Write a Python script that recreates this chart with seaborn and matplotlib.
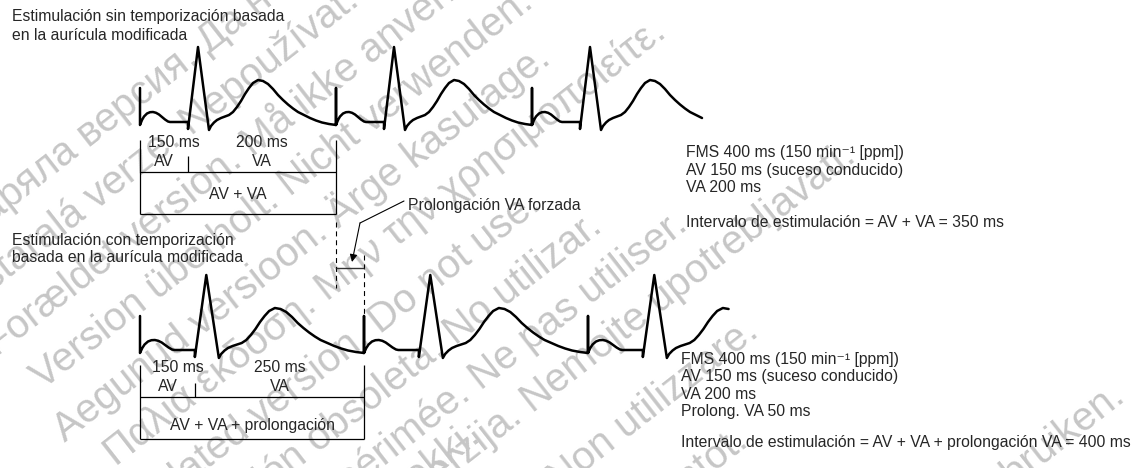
import numpy as np
import pandas as pd
import matplotlib
matplotlib.use("Agg")
import matplotlib.pyplot as plt
import seaborn as sns

# === DATA ===
PACE_INTERVAL = [350, 400]          # ms, top strip / bottom strip
STRIP_END_MS = [1009, 1054]         # where each trace stops (ms from first atrial pace)
BEATS = 3

# one paced beat: x in px inside a 196 px cycle, height above baseline in px
BEAT_DX = [0, 0,
           0, 2, 4, 7, 10, 13, 16, 19, 22, 25, 28, 30,
           48, 48, 58, 69,
           71, 74, 77, 81, 85, 89, 93, 97, 101, 105, 109, 113, 118, 123, 128, 133,
           138, 143, 148, 153, 158, 164, 170, 176, 182, 189, 196]
BEAT_HEIGHT = [35, -2,
               -2, 3, 6.5, 9.5, 10.8, 11, 10.2, 8.5, 6, 3.5, 1.5, 1,
               1, -6, 76, -7,
               -3, 0.5, 3, 5, 6.5, 8, 11, 16, 22, 29, 35, 40, 43, 42, 39, 34,
               28, 23, 18.5, 14.5, 11, 8, 5, 2.5, 0.5, -1, -2]
V_PACE_INDEX = 14                    # first point of the ventricular deflection

BRACKET_TOP = ["150 ms", "200 ms"]
BRACKET_BOTTOM = ["150 ms", "250 ms"]
BRACKET_TOTAL = ["AV + VA", "AV + VA + prolongación"]

TITLE_TOP = ["Estimulación sin temporización basada", "en la aurícula modificada"]
TITLE_BOTTOM = ["Estimulación con temporización", "basada en la aurícula modificada"]
INFO_TOP = ["FMS 400 ms (150 min⁻¹ [ppm])", "AV 150 ms (suceso conducido)", "VA 200 ms", "",
            "Intervalo de estimulación = AV + VA = 350 ms"]
INFO_BOTTOM = ["FMS 400 ms (150 min⁻¹ [ppm])", "AV 150 ms (suceso conducido)", "VA 200 ms",
               "Prolong. VA 50 ms", "", "Intervalo de estimulación = AV + VA + prolongación VA = 400 ms"]

# background watermark, each phrase placed by where it ends (period), picture px
WATERMARK = ["Остаряла версия. Да не се използва.", "Zastaralá verze. Nepoužívat.",
             "Forældet version. Må ikke anvendes.", "Version überholt. Nicht verwenden.",
             "Aegunud versioon. Ärge kasutage.", "Παλιά έκδοση. Μην την χρησιμοποιείτε.",
             "Outdated version. Do not use.", "Versión obsoleta. No utilizar.",
             "Version périmée. Ne pas utiliser.", "Zastarjela verzija. Nemojte upotrebljavati.",
             "Úrelt útgáfa. Notið ekki.", "Versione obsoleta. Non utilizzare.",
             "Novecojusi versija. Neizmantot.", "Verouderde versie. Niet gebruiken."]
WM_END = [(485, -161), (361, 4), (517, -49), (535, 6), (552, 62), (668, 36),
          (543, 208), (604, 230), (689, 228), (858, 160),
          (482, 440), (760, 335), (750, 445), (1127, 400)]

# === LAYOUT (pixels of the 1143x468 picture) ===
W, H = 1143, 468
PX_PER_MS = 0.56
X0 = 140
BASELINE = [123, 351]
FS = 11.3

sns.set_style("white")
plt.rcParams["font.family"] = ["Liberation Sans", "DejaVu Sans"]

fig = plt.figure(figsize=(W / 100, H / 100), dpi=100)
ax = fig.add_axes([0, 0, 1, 1])


def px(x, y):
    return x / W, 1 - y / H


def ms(x):
    return (x - X0) / PX_PER_MS


def label(x, y, s, **kw):
    kw.setdefault("va", "baseline")
    ax.text(*px(x, y), s, transform=ax.transAxes, fontsize=FS, zorder=4, **kw)


# --- watermark ---
for s, (ex, ey) in zip(WATERMARK, WM_END):
    ax.text(*px(ex, ey), s, transform=ax.transAxes, fontsize=29, color="#c6c6c6",
            rotation=38, rotation_mode="anchor", ha="right", va="baseline", zorder=0)

# --- ECG strips ---
phase = np.array(BEAT_DX) / BEAT_DX[-1]
height = np.array(BEAT_HEIGHT)
rows = []
for r, (iv, end, base) in enumerate(zip(PACE_INTERVAL, STRIP_END_MS, BASELINE)):
    for k in range(BEATS):
        t = k * iv + phase * iv
        keep = t <= end
        rows.append(pd.DataFrame({"t": t[keep], "y": base - height[keep], "strip": r}))
trace = pd.concat(rows, ignore_index=True)
for r, d in trace.groupby("strip"):
    sns.lineplot(data=d, x="t", y="y", sort=False, estimator=None, color="black",
                 lw=1.8, ax=ax, zorder=3)

# --- interval brackets ---
lw_b = 0.9
v_phase = phase[V_PACE_INDEX]
specs = [(140, 156, 172, 214, BRACKET_TOP, 147, 166, 199),
         (365, 383, 397, 439, BRACKET_BOTTOM, 372, 391, 430)]
for r, (y_top, y_div, y_mid, y_bot, labels, yb1, yb2, yb3) in enumerate(specs):
    iv = PACE_INTERVAL[r]
    tv = v_phase * iv
    ax.vlines([0, iv], y_top, y_bot, color="black", lw=lw_b, zorder=3)
    ax.vlines(tv, y_div, y_mid, color="black", lw=lw_b, zorder=3)
    ax.hlines([y_mid, y_bot], 0, iv, color="black", lw=lw_b, zorder=3)
    x_av = X0 + tv * PX_PER_MS / 2
    x_va = X0 + (tv + iv) * PX_PER_MS / 2
    label(x_av + 10, yb1, labels[0], ha="center")
    label(x_av, yb2, "AV", ha="center")
    label(x_va, yb1, labels[1], ha="center")
    label(x_va, yb2, "VA", ha="center")
    label(X0 + iv * PX_PER_MS / 2, yb3, BRACKET_TOTAL[r], ha="center")

# --- forced VA extension marker ---
dash = dict(color="black", lw=0.8, linestyle=(0, (4.5, 3.5)), zorder=3)
ax.vlines(PACE_INTERVAL[0], 222, 288, **dash)
ax.vlines(PACE_INTERVAL[1], 255, 316, **dash)
ax.hlines(268, PACE_INTERVAL[0], PACE_INTERVAL[1], color="#333333", lw=1.0, zorder=3)
ax.plot([ms(404), ms(360)], [201, 223], color="black", lw=0.8, zorder=3)
ax.annotate("", xy=(ms(352), 262), xytext=(ms(360), 223),
            arrowprops=dict(arrowstyle="-|>", color="black", lw=0.8, mutation_scale=11,
                            shrinkA=0, shrinkB=0), zorder=3)
label(408, 210, "Prolongación VA forzada")

# --- titles and notes ---
for i, line in enumerate(TITLE_TOP):
    label(12, 21 + 19.5 * i, line)
for i, line in enumerate(TITLE_BOTTOM):
    label(12, 245 + 17 * i, line)
for i, line in enumerate(INFO_TOP):
    label(686, 157 + 17.5 * i, line)
for i, line in enumerate(INFO_BOTTOM):
    label(681, 364 + 17.3 * i - (3 if i == 5 else 0), line)

ax.set_xlim(-X0 / PX_PER_MS, (W - X0) / PX_PER_MS)
ax.set_ylim(H, 0)
ax.axis("off")

fig.savefig("out.png", dpi=100)
